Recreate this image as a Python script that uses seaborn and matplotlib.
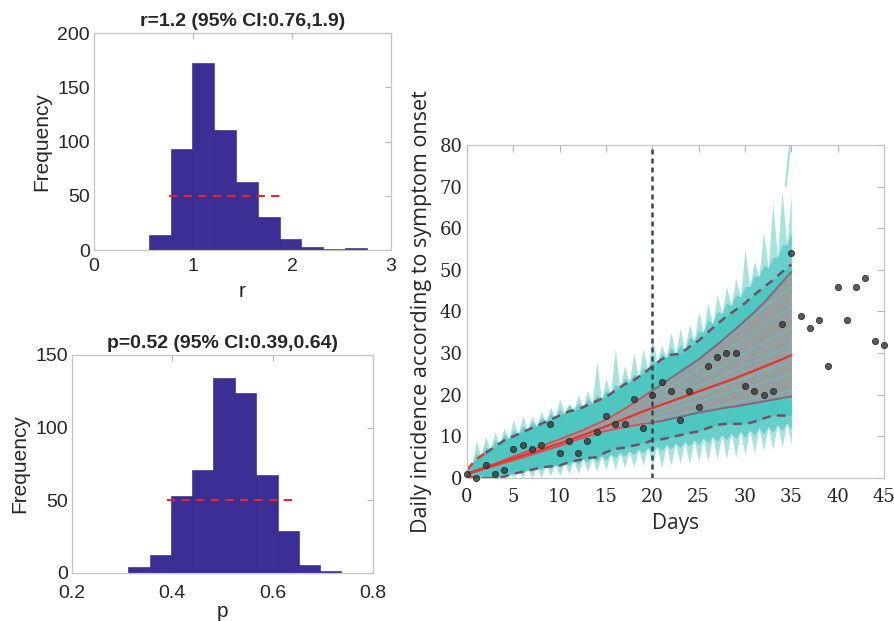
import numpy as np
import pandas as pd
import matplotlib
matplotlib.use("Agg")
import matplotlib.pyplot as plt
import seaborn as sns

# ---------------- data ----------------
r_edges = [0.555, 0.775, 0.995, 1.215, 1.435, 1.655, 1.875, 2.095, 2.315, 2.535, 2.755]
r_counts = [14, 93, 172, 111, 63, 30, 10, 3, 1, 2]
r_ci = [0.76, 1.9]
r_title = "r=1.2 (95% CI:0.76,1.9)"

p_edges = [0.312, 0.355, 0.397, 0.44, 0.482, 0.525, 0.567, 0.61, 0.652, 0.695, 0.737]
p_counts = [4, 12, 53, 71, 134, 124, 67, 29, 5, 1]
p_ci = [0.39, 0.64]
p_title = "p=0.52 (95% CI:0.39,0.64)"

obs_days = list(range(0, 46))
obs_cases = [1, 0, 3, 1, 2, 7, 8, 7, 8, 13, 6, 9, 6, 9, 11, 15, 13, 13, 19, 12,
             20, 23, 21, 14, 21, 17, 27, 29, 30, 30, 22, 21, 20, 21, 37, 54,
             39, 36, 38, 27, 46, 38, 46, 48, 33, 32]

fit_days = list(range(0, 36))
median = [1, 1.8, 2.5, 3.2, 4, 4.7, 5.4, 6.1, 6.8, 7.6, 8.3, 9.1, 9.9, 10.7, 11.6, 12.4,
          13.3, 14.2, 15.1, 16, 16.8, 17.6, 18.4, 19.2, 20, 20.8, 21.6, 22.4, 23.2, 24,
          24.9, 25.8, 26.7, 27.6, 28.5, 29.5]
band_hi = [1, 1.8, 2.6, 3.4, 4.3, 5.2, 6, 6.8, 7.6, 8.5, 9.3, 10.2, 11, 12, 13, 14,
           15.3, 16.6, 18, 19.5, 21, 22.5, 24, 25.5, 27, 28.5, 30.3, 32, 34, 35.8,
           37.8, 39.8, 42, 44.5, 47, 49.5]
band_lo = [1, 1.5, 2.2, 2.9, 3.6, 4.2, 4.9, 5.6, 6.3, 7, 7.7, 8.5, 9.3, 10, 10.7, 11.3,
           11.8, 12.2, 12.6, 13, 13.3, 13.7, 14.2, 14.7, 15.2, 15.7, 16.1, 16.5, 16.9,
           17.2, 17.6, 18, 18.4, 18.8, 19.2, 19.6]
pi_hi = [2, 4.5, 6, 7.5, 9, 10, 11, 12, 13, 14, 15, 16, 16.5, 17.5, 18.5, 19.5, 21,
         22.5, 23.5, 25, 26.8, 28.5, 29.6, 29.8, 31.5, 33, 35, 37, 38.8, 40.4, 42,
         44, 45.8, 47.5, 49.5, 51.3]
pi_lo = [0.5, 0, 0, 0, 0.3, 1, 1.5, 2, 2.5, 2.8, 3, 3.8, 4.3, 4.8, 5, 6.2, 7, 7.3,
         7.8, 8.3, 9, 9.3, 9.8, 10.3, 10.8, 11.2, 12, 12.8, 13, 13, 13, 13.5, 14.3,
         15, 15, 15]

# simulated-trajectory cloud, read as envelopes (peaks on whole days, dips on half days)
cloud_hi_peak = [2, 9, 10, 11, 12, 14, 15, 15, 16, 17, 19, 18, 20, 21, 28, 24, 31, 27,
                 30, 31, 34, 32, 35, 36, 37, 40, 42, 44, 46, 48, 55, 52, 59, 66, 69, 68]
core_hi = [2.5, 6, 7.5, 9, 10.5, 11.5, 12.5, 13.5, 14.5, 15.5, 16.5, 17.5, 18, 19, 20,
           21, 22.5, 24, 25, 26.5, 28.5, 30, 31.5, 32, 34, 35.5, 38, 40, 42, 44, 46,
           48.5, 51, 53, 56, 59]
core_dip = [3, 5.2, 6.7, 8.2, 9.5, 10.5, 11.5, 12.5, 13.5, 14.5, 15.5, 16.2, 17, 18, 19,
            20.2, 21.7, 23, 24.2, 25.9, 27.6, 29, 29.7, 30.6, 33, 35, 37, 39.5, 41.5,
            43.5, 46, 48.5, 50.5, 53, 56]
cloud_lo_trough = [0, 0, 0, 0, 0, 0, 0, 0, 0, 0.5, 0.5, 1, 1, 1.5, 1.5, 2, 2, 2.5, 2.5,
                   3, 3, 2.5, 3, 3.5, 3.5, 4, 4, 4.5, 4.5, 5, 5.5, 6, 6.5, 7, 7.5, 8]
core_lo = [0.3, 0.3, 0.3, 0.5, 0.8, 1, 1.3, 1.6, 2, 2.3, 2.6, 3, 3.3, 3.7, 4, 4.3, 4.8,
           5.2, 5.6, 6, 6.4, 6.6, 7, 7.3, 7.6, 8, 8.4, 8.8, 9.2, 9.5, 9.8, 10.2, 10.6,
           11, 11.4, 11.8]
core_lo_bump = [1, 1, 1, 1.2, 1.6, 2, 2.4, 2.8, 3.2, 3.5, 3.8, 4.2, 4.6, 5, 5.4, 5.8,
                6.2, 6.5, 6.9, 7.3, 7.6, 8, 8.4, 8.8, 9.2, 9.6, 10, 10.4, 10.8, 11.2,
                11.6, 12, 12.4, 12.8, 13.2]
streak_start = [14, 15, 16, 17, 18, 19, 20]
streak_end = [21, 25, 28, 32, 36, 41, 46]
spike_days = [34.4, 35.0]
spike_vals = [70, 83]
cutoff_day = 20

# ---------------- style ----------------
sns.set_theme(style="white")
plt.rcParams["font.family"] = ["Liberation Sans", "DejaVu Sans"]

HIST = "#3b2e95"
SPINE = "#c4c4c4"
TXT = "#262626"

fig = plt.figure(figsize=(8.94, 6.21), dpi=100)
ax1 = fig.add_axes([0.1051, 0.5974, 0.3322, 0.3494])
ax2 = fig.add_axes([0.0805, 0.0778, 0.3367, 0.3506])
ax3 = fig.add_axes([0.5224, 0.2303, 0.4664, 0.5362])


def matlab_box(ax):
    for s in ax.spines.values():
        s.set_visible(True)
        s.set_color(SPINE)
        s.set_linewidth(0.9)
    ax.tick_params(direction="in", top=True, right=True, length=4, width=0.8,
                   color="#b5b5b5", labelcolor=TXT, pad=3)


def hist_panel(ax, edges, counts, ci, title, xlabel, xlim, xticks, ylim, yticks,
               xpad, lpad):
    centers = [(a + b) / 2 for a, b in zip(edges[:-1], edges[1:])]
    df = pd.DataFrame({"v": centers, "n": counts})
    sns.histplot(data=df, x="v", weights="n", bins=edges, ax=ax, color=HIST,
                 alpha=1.0, edgecolor="#2c2280", linewidth=0.4)
    sns.lineplot(x=ci, y=[50, 50], ax=ax, color="#e5262b", lw=1.5)
    ax.lines[-1].set_dashes((4, 3))
    ax.set_xlim(*xlim)
    ax.set_ylim(*ylim)
    ax.set_xticks(xticks)
    ax.set_yticks(yticks)
    ax.set_xticklabels([f"{t:g}" for t in xticks], fontsize=14)
    ax.set_yticklabels([f"{t:g}" for t in yticks], fontsize=14)
    ax.set_xlabel(xlabel, fontsize=15, color=TXT, labelpad=lpad)
    ax.set_ylabel("Frequency", fontsize=15, color=TXT, labelpad=4)
    ax.set_title(title, fontsize=14, fontweight="bold", color=TXT, pad=5)
    matlab_box(ax)
    ax.tick_params(axis="x", pad=xpad)


hist_panel(ax1, r_edges, r_counts, r_ci, r_title, "r", (0, 3), [0, 1, 2, 3],
           (0, 200), [0, 50, 100, 150, 200], 6, 5)
hist_panel(ax2, p_edges, p_counts, p_ci, p_title, "p", (0.2, 0.8),
           [0.2, 0.4, 0.6, 0.8], (0, 150), [0, 50, 100, 150], 9, 0)

# ---------------- right panel ----------------
fd = np.array(fit_days, dtype=float)
env_x = np.arange(0, 35.01, 0.5)


def weave(whole, half):
    out = np.empty(len(whole) + len(half))
    out[0::2] = whole
    out[1::2] = half
    return out


outer_hi = weave(cloud_hi_peak, core_dip)
inner_hi = weave(core_hi, core_dip)
outer_lo = weave(cloud_lo_trough, core_lo_bump)
inner_lo = weave(core_lo, core_lo_bump)

ax3.fill_between(env_x, outer_lo, outer_hi, color="#a6e3df", alpha=1.0, lw=0)
ax3.fill_between(env_x, inner_lo, inner_hi, color="#68cfca", alpha=1.0, lw=0)
ax3.fill_between(fd, pi_lo, pi_hi, color="#48c5bf", alpha=0.8, lw=0)
sns.lineplot(x=spike_days, y=spike_vals, ax=ax3, color="#8adcd7", lw=1.2)
ax3.fill_between(fd, band_lo, band_hi, color="#9c9c9c", alpha=0.92, lw=0)
for s0, s1 in zip(streak_start, streak_end):
    sns.lineplot(x=[cutoff_day, 35], y=[s0, s1], ax=ax3, color="#5ccdc7",
                 lw=0.8, alpha=0.6)

fit_mask = fd <= cutoff_day
fc_mask = fd >= cutoff_day
for arr in (band_hi, band_lo):
    a = np.array(arr)
    ax3.plot(fd[fit_mask], a[fit_mask], color="#e0484a", lw=1.2)
    ax3.plot(fd[fc_mask], a[fc_mask], color="#7b6a82", lw=1.4)

for arr in (pi_hi, pi_lo):
    a = np.array(arr)
    ax3.plot(fd[2:], a[2:], color="#6b5468", lw=1.8, dashes=(3.5, 2.5))
    ax3.plot(fd[:3], a[:3], color="#e83535", lw=1.8, dashes=(3.5, 2.5))

sns.lineplot(x=fit_days, y=median, ax=ax3, color="#e8322f", lw=1.6)

ax3.axvline(cutoff_day, color="#2d4a4c", lw=1.8, dashes=(2, 1.6))

sns.scatterplot(x=obs_days, y=obs_cases, ax=ax3, color="#3e3e3e", s=20,
                edgecolor="#1e1e1e", linewidth=0.6, alpha=0.85, zorder=5,
                clip_on=False)

ax3.set_xlim(0, 45)
ax3.set_ylim(0, 80)
ax3.set_xticks(range(0, 46, 5))
ax3.set_yticks(range(0, 81, 10))
ax3.set_xticklabels([str(t) for t in range(0, 46, 5)], fontsize=13,
                    family=["DejaVu Serif"])
ax3.set_yticklabels([str(t) for t in range(0, 81, 10)], fontsize=13,
                    family=["DejaVu Serif"])
ax3.set_xlabel("Days", fontsize=15, color=TXT, family=["Open Sans"], labelpad=5)
ax3.set_ylabel("Daily incidence according to symptom onset", fontsize=15.5,
               color=TXT, family=["Open Sans"], labelpad=6)
matlab_box(ax3)
ax3.tick_params(length=5)
ax3.tick_params(axis="x", pad=7)

fig.savefig("out.png", dpi=100)
